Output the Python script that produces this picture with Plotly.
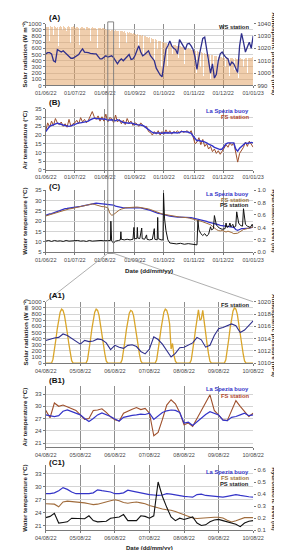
import plotly.graph_objects as go
import pandas as pd

W, H = 282, 550

# ---------------- tick labels ----------------
month_ticks = ["2022-06-01", "2022-07-01", "2022-08-01", "2022-09-01",
               "2022-10-01", "2022-11-01", "2022-12-01", "2023-01-01"]
month_labels = ["01/06/22", "01/07/22", "01/08/22", "01/09/22",
                "01/10/22", "01/11/22", "01/12/22", "01/01/23"]
day_ticks = ["2022-08-04", "2022-08-05", "2022-08-06", "2022-08-07",
             "2022-08-08", "2022-08-09", "2022-08-10"]
day_labels = ["04/08/22", "05/08/22", "06/08/22", "07/08/22",
              "08/08/22", "09/08/22", "10/08/22"]

# ---------------- (A) daily solar radiation peaks, WS station ----------------
solar_days = pd.date_range("2022-06-01 12:00", periods=214, freq="D")
solar_jun = [950, 955, 945, 720, 960, 950, 955, 830, 960, 955, 935, 950, 640, 955, 960,
             945, 950, 905, 960, 955, 940, 880, 950, 960, 955, 690, 945, 950, 960, 955]
solar_jul = [940, 945, 950, 930, 660, 940, 945, 950, 935, 940, 900, 945, 950, 940, 935,
             720, 940, 945, 930, 940, 935, 940, 920, 610, 935, 930, 940, 925, 930, 935, 920]
solar_aug = [915, 910, 905, 900, 910, 890, 905, 900, 660, 895, 900, 890, 880, 895, 610,
             885, 880, 890, 870, 880, 875, 860, 700, 870, 860, 865, 850, 860, 840, 850, 845]
solar_sep = [840, 830, 835, 600, 820, 825, 810, 815, 500, 800, 805, 790, 795, 780, 785,
             690, 770, 760, 765, 420, 750, 745, 740, 600, 730, 725, 720, 310, 710, 705]
solar_oct = [700, 695, 690, 320, 685, 680, 675, 670, 520, 665, 660, 655, 650, 640, 450,
             645, 640, 630, 625, 620, 360, 615, 610, 600, 605, 220, 595, 590, 585, 580, 575]
solar_nov = [570, 565, 210, 560, 555, 545, 310, 540, 535, 160, 530, 520, 515, 400, 510,
             505, 110, 500, 495, 260, 490, 485, 480, 360, 475, 470, 210, 465, 460, 455]
solar_dec = [460, 455, 300, 450, 450, 455, 160, 445, 450, 445, 440, 260, 445, 440, 440,
             120, 440, 445, 440, 435, 310, 440, 445, 450, 210, 450, 445, 450, 455, 360, 460]
solar_ws = solar_jun + solar_jul + solar_aug + solar_sep + solar_oct + solar_nov + solar_dec

# ---------------- 2-day series (A, B, C) ----------------
two_day = pd.date_range("2022-06-01", "2023-01-01", freq="2D")
pressure_ws = [1015.5, 1016.5, 1016.5, 1015.5, 1010, 1009, 1019, 1018, 1017, 1018,
               1016.5, 1014.5, 1013, 1012, 1012, 1013, 1013.5, 1015, 1017.5, 1019.5,
               1017, 1017, 1016.5, 1016, 1015.5, 1015.5, 1015.5, 1013, 1011.5, 1011.5,
               1013, 1014, 1013, 1013.5, 1014, 1012.5, 1010, 1007.5, 1010, 1011.5,
               1010, 1011.5, 1013, 1015, 1011, 1011.5, 1014, 1018, 1022, 1017,
               1014, 1015, 1016.5, 1018, 1014, 1012, 1010, 1004, 1001, 998.5,
               997, 1010, 1019, 1022, 1026, 1022, 1020, 1019, 1015.5, 1027,
               1024.5, 1021, 1019, 1023.5, 1024, 1022, 1019, 1013, 1003, 1013,
               1021, 1028, 1029, 1018, 1007, 1000, 1007.5, 996, 999, 1010,
               1015.5, 1017, 1014.5, 1012.5, 1011.5, 1006, 1009, 1007.5, 1004, 1000.5,
               1022, 1032, 1025, 1017, 1021, 1025, 1020, 1030]
air_buoy = [22.0, 23.5, 25.0, 25.5, 26.0, 26.5, 26.8, 26.5, 26.0, 25.8,
            25.5, 25.2, 25.0, 25.3, 25.8, 26.0, 26.5, 27.0, 27.0, 27.2,
            27.2, 27.5, 28.0, 28.8, 29.5, 29.7, 29.5, 29.4, 29.5, 29.2,
            29.0, 29.1, 28.5, 28.8, 28.8, 28.5, 28.2, 28.8, 28.5, 27.8,
            27.2, 27.0, 27.0, 26.8, 27.0, 26.5, 26.2, 26.0, 26.0, 25.8,
            25.5, 25.0, 24.0, 23.0, 22.0, 21.5, 21.2, 21.0, 21.2, 21.2,
            21.0, 21.3, 21.2, 21.5, 21.0, 21.2, 21.5, 21.3, 21.2, 21.5,
            22.0, 22.0, 22.1, 21.8, 21.5, 21.0, 19.5, 18.0, 16.8, 17.0,
            16.5, 16.5, 16.2, 15.5, 14.8, 14.5, 13.8, 13.0, 12.5, 12.0,
            11.7, 12.0, 13.5, 15.0, 15.5, 15.5, 15.2, 15.5, 12.0, 10.8,
            12.5, 13.6, 14.5, 15.5, 15.2, 15.5, 15.8, 15.5]
air_fs = [22.5, 27.0, 24.5, 28.0, 25.5, 29.5, 27.0, 26.0, 27.5, 25.0,
          26.5, 24.5, 29.0, 25.0, 26.5, 27.0, 28.5, 26.5, 30.0, 27.5,
          29.0, 27.0, 28.5, 31.0, 33.5, 30.5, 29.0, 31.0, 28.0, 30.5,
          28.0, 32.0, 27.5, 30.0, 29.5, 27.0, 31.5, 27.5, 29.0, 26.5,
          28.5, 26.0, 29.5, 27.0, 28.0, 25.5, 27.0, 26.5, 25.0, 27.0,
          25.5, 24.5, 25.0, 22.0, 21.5, 20.0, 22.0, 20.5, 22.5, 20.0,
          22.0, 20.5, 23.0, 21.0, 22.5, 20.5, 22.0, 21.5, 22.5, 21.0,
          22.5, 21.5, 22.0, 22.5, 21.0, 22.5, 19.0, 15.0, 16.0, 18.5,
          14.5, 17.5, 13.5, 15.0, 12.0, 13.5, 10.5, 12.0, 9.5, 11.0,
          9.0, 10.5, 12.5, 14.5, 13.0, 15.5, 14.0, 15.5, 9.0, 4.5,
          9.5, 11.0, 13.0, 16.0, 13.5, 16.5, 14.5, 13.0]
water_buoy = [22.8, 23.2, 23.5, 23.6, 24.0, 24.3, 24.6, 25.0, 25.3, 25.7,
              26.0, 26.1, 26.3, 26.4, 26.6, 26.7, 26.9, 27.0, 27.1, 27.3,
              27.4, 27.5, 27.8, 28.1, 28.4, 28.6, 28.7, 28.6, 28.5, 28.5,
              28.4, 28.3, 28.3, 28.1, 28.0, 27.7, 27.3, 27.0, 26.8, 26.6,
              26.4, 26.4, 26.4, 26.5, 26.6, 26.7, 26.7, 26.6, 26.5, 26.4,
              26.2, 26.0, 25.8, 25.5, 25.2, 24.8, 24.4, 24.1, 23.8, 23.6,
              23.3, 23.0, 22.8, 22.6, 22.4, 22.3, 22.1, 22.0, 22.0, 22.0,
              22.0, 22.0, 22.0, 21.9, 21.8, 21.7, 21.5, 21.3, 21.2, 21.0,
              20.7, 20.4, 20.2, 19.9, 19.6, 19.4, 19.1, 18.8, 18.6, 18.3,
              18.0, 17.9, 17.7, 17.5, 17.5, 17.3, 17.2, 17.0, 16.0, 15.6,
              16.0, 16.4, 16.4, 16.4, 16.5, 16.7, 16.9, 17.2]
water_fs = [22.5, 22.8, 23.0, 23.2, 23.5, 23.8, 24.1, 24.5, 24.8, 25.2,
            25.5, 25.7, 25.9, 26.0, 26.2, 26.4, 26.6, 26.8, 27.0, 27.3,
            27.5, 27.7, 28.0, 28.2, 28.3, 28.1, 27.8, 27.5, 27.2, 27.0,
            27.0, 26.8, 26.5, 24.0, 22.8, 23.2, 24.0, 24.8, 25.4, 25.8,
            26.2, 26.4, 26.5, 26.6, 26.8, 26.9, 26.8, 26.8, 26.7, 26.6,
            26.5, 26.3, 26.1, 25.9, 25.6, 25.2, 24.8, 24.4, 24.1, 23.8,
            23.5, 23.3, 23.1, 22.9, 22.7, 22.5, 22.3, 22.2, 22.1, 22.0,
            21.9, 21.9, 21.8, 21.7, 21.5, 21.3, 21.1, 20.8, 20.5, 20.2,
            20.0, 19.7, 19.4, 19.1, 18.8, 18.3, 17.5, 16.5, 16.0, 15.5,
            15.3, 15.5, 15.0, 14.8, 15.2, 15.0, 14.5, 14.0, 14.0, 14.2,
            14.8, 15.5, 16.0, 16.2, 16.5, 16.8, 17.0, 17.2]

# ---------------- (C) hydrometric level, PS station ----------------
level_dates = ["2022-06-01", "2022-06-04", "2022-06-07", "2022-06-10", "2022-06-13", "2022-06-16",
               "2022-06-19", "2022-06-22", "2022-06-25", "2022-06-28", "2022-07-01", "2022-07-04",
               "2022-07-07", "2022-07-10", "2022-07-13", "2022-07-16", "2022-07-19", "2022-07-22",
               "2022-07-25", "2022-07-28", "2022-07-31", "2022-08-03", "2022-08-06 18:00",
               "2022-08-07 04:00", "2022-08-07 12:00", "2022-08-08", "2022-08-10", "2022-08-12",
               "2022-08-15", "2022-08-17", "2022-08-17 12:00", "2022-08-18", "2022-08-21",
               "2022-08-24", "2022-08-27", "2022-08-30", "2022-08-31", "2022-08-31 12:00",
               "2022-09-03", "2022-09-03 12:00", "2022-09-04", "2022-09-06", "2022-09-08",
               "2022-09-08 12:00", "2022-09-11", "2022-09-13", "2022-09-13 12:00", "2022-09-16",
               "2022-09-19", "2022-09-21", "2022-09-21 12:00", "2022-09-24", "2022-09-24 12:00",
               "2022-09-25", "2022-09-28", "2022-09-30", "2022-09-30 12:00", "2022-10-01 12:00",
               "2022-10-03", "2022-10-05", "2022-10-07", "2022-10-10", "2022-10-14", "2022-10-18",
               "2022-10-22", "2022-10-26", "2022-10-30", "2022-11-02", "2022-11-04", "2022-11-05",
               "2022-11-06", "2022-11-08", "2022-11-10", "2022-11-12", "2022-11-14", "2022-11-16",
               "2022-11-18", "2022-11-19", "2022-11-21", "2022-11-22", "2022-11-24", "2022-11-27",
               "2022-11-30", "2022-12-03", "2022-12-04", "2022-12-05", "2022-12-07", "2022-12-08",
               "2022-12-09", "2022-12-10", "2022-12-11", "2022-12-12", "2022-12-14", "2022-12-15",
               "2022-12-17", "2022-12-19", "2022-12-21", "2022-12-22", "2022-12-24", "2022-12-26",
               "2022-12-29", "2022-12-31", "2023-01-01"]
level_ps = [0.18, 0.19, 0.175, 0.19, 0.18, 0.185,
            0.175, 0.19, 0.18, 0.185, 0.18, 0.19,
            0.18, 0.185, 0.175, 0.19, 0.18, 0.185,
            0.18, 0.19, 0.185, 0.19, 0.19,
            0.50, 0.30, 0.18, 0.15, 0.18,
            0.19, 0.20, 0.33, 0.21, 0.20,
            0.21, 0.20, 0.21, 0.40, 0.22,
            0.22, 0.40, 0.23, 0.22, 0.39,
            0.22, 0.21, 0.28, 0.21, 0.20,
            0.21, 0.38, 0.21, 0.20, 0.56,
            0.22, 0.20, 0.20, 0.95, 0.55,
            0.35, 0.20, 0.15, 0.14, 0.135, 0.145,
            0.13, 0.14, 0.135, 0.13, 0.12, 0.51,
            0.36, 0.30, 0.27, 0.30, 0.26, 0.29,
            0.41, 0.36, 0.38, 0.59, 0.44, 0.39,
            0.37, 0.38, 0.47, 0.40, 0.42, 0.47,
            0.41, 0.43, 0.45, 0.40, 0.42, 0.65,
            0.47, 0.43, 0.42, 0.70, 0.45, 0.42,
            0.40, 0.45, 0.41]

# ---------------- zoom period 04/08/22 - 10/08/22 ----------------
hourly = pd.date_range("2022-08-04", "2022-08-10", freq="h")
solar_fs_d1 = [0, 0, 0, 0, 0, 60, 200, 380, 560, 720, 830, 880, 860, 780, 650, 490, 320, 160, 40, 0, 0, 0, 0, 0]
solar_fs_d2 = [0, 0, 0, 0, 0, 55, 195, 375, 555, 715, 830, 880, 860, 780, 645, 485, 315, 155, 35, 0, 0, 0, 0, 0]
solar_fs_d3 = [0, 0, 0, 0, 0, 55, 190, 365, 545, 700, 815, 860, 845, 770, 635, 480, 310, 150, 35, 0, 0, 0, 0, 0]
solar_fs_d4 = [0, 0, 0, 0, 0, 55, 195, 375, 555, 715, 830, 880, 860, 780, 640, 230, 320, 130, 30, 0, 0, 0, 0, 0]
solar_fs_d5 = [0, 0, 0, 0, 0, 50, 190, 370, 550, 720, 870, 700, 720, 860, 640, 480, 310, 150, 30, 0, 0, 0, 0, 0]
solar_fs_d6 = [0, 0, 0, 0, 0, 55, 200, 385, 570, 735, 850, 900, 880, 795, 655, 495, 320, 160, 35, 0, 0, 0, 0, 0]
solar_fs_end = [0]
solar_fs = solar_fs_d1 + solar_fs_d2 + solar_fs_d3 + solar_fs_d4 + solar_fs_d5 + solar_fs_d6 + solar_fs_end

three_h = pd.date_range("2022-08-04", "2022-08-10", freq="3h")
pressure_fs = [1013.7, 1013.95, 1014.1, 1014.2, 1014.75, 1014.5, 1014.0, 1013.6,
               1013.1, 1013.7, 1013.5, 1013.6, 1013.95, 1013.8, 1013.3, 1012.2,
               1012.9, 1012.6, 1012.4, 1012.9, 1013.0, 1012.7, 1011.9, 1011.5,
               1012.3, 1014.3, 1013.85, 1013.1, 1012.05, 1011.0, 1011.6, 1012.5,
               1012.6, 1012.9, 1013.3, 1014.2, 1013.8, 1012.6, 1012.9, 1014.5,
               1015.6, 1015.8, 1016.1, 1016.4, 1016.1, 1015.0, 1015.4, 1016.2, 1016.9]
air_buoy_z = [27.9, 27.7, 27.5, 27.7, 28.8, 29.1, 28.7, 28.2,
              27.9, 27.0, 26.3, 27.0, 27.9, 28.4, 28.0, 27.5,
              26.9, 26.4, 27.3, 27.6, 27.8, 27.9, 28.1, 28.0,
              28.3, 26.8, 27.6, 28.5, 28.9, 29.1, 29.0, 28.5,
              25.9, 26.1, 25.3, 26.2, 27.2, 28.0, 28.7, 28.2,
              27.9, 26.6, 26.5, 27.3, 27.5, 27.9, 28.3, 27.7, 27.9]
air_fs_z = [29.0, 27.2, 30.8, 30.0, 30.3, 29.8, 29.5, 29.0,
            27.9, 26.8, 27.0, 29.0, 29.1, 29.4, 28.5, 27.4,
            26.7, 26.4, 28.3, 28.9, 29.3, 29.7, 29.2, 29.5,
            28.3, 22.8, 23.6, 26.8, 30.3, 31.6, 30.6, 28.5,
            25.5, 25.9, 25.1, 27.0, 29.0, 31.0, 32.8, 29.0,
            27.8, 26.7, 26.5, 28.9, 31.4, 30.0, 28.8, 27.5, 28.3]
water_buoy_z = [28.4, 28.4, 28.6, 29.1, 29.8, 29.4, 28.8, 28.4,
                28.4, 28.4, 28.4, 28.6, 29.3, 29.1, 29.0, 28.8,
                28.4, 28.4, 28.6, 29.2, 29.0, 28.8, 28.5, 28.4,
                28.2, 28.1, 28.0, 28.1, 28.4, 28.3, 28.1, 28.0,
                27.8, 27.7, 27.6, 28.2, 28.3, 28.0, 27.9, 27.7,
                27.6, 27.6, 27.8, 28.0, 28.2, 28.0, 27.8, 27.7, 27.6]
water_fs_z = [26.1, 26.1, 26.0, 25.4, 26.5, 26.7, 26.6, 26.5,
              26.5, 26.3, 26.1, 25.9, 26.0, 26.3, 26.6, 26.8,
              27.0, 26.8, 26.4, 26.2, 26.4, 26.5, 26.3, 26.1,
              25.7, 25.4, 25.1, 24.9, 24.7, 24.6, 24.3, 23.9,
              23.6, 23.2, 22.8, 22.7, 22.8, 22.9, 23.0, 23.0,
              23.0, 22.8, 22.3, 21.9, 22.2, 22.6, 22.9, 22.9, 22.9]
level_ps_z = [0.205, 0.215, 0.24, 0.16, 0.165, 0.17, 0.20, 0.20,
              0.20, 0.195, 0.22, 0.18, 0.17, 0.17, 0.175, 0.20,
              0.205, 0.21, 0.23, 0.18, 0.18, 0.18, 0.22, 0.215,
              0.20, 0.22, 0.50, 0.38, 0.29, 0.21, 0.18, 0.20,
              0.19, 0.20, 0.21, 0.16, 0.14, 0.145, 0.17, 0.185,
              0.19, 0.18, 0.17, 0.155, 0.15, 0.13, 0.16, 0.175, 0.18]

# ---------------- styling ----------------
FONT = "Liberation Sans, Arial, sans-serif"
C_BUOY = "#3434c8"
C_FS_AIR = "#9e4f2b"
C_FS_WATER = "#a06c3c"
C_PS = "#111111"
C_PRESS = "#2e2e8c"
C_SOLAR_A = "rgba(226,158,92,0.5)"
C_SOLAR_A1 = "#d9a52a"
XD = [29 / W, 254 / W]


def py(px):
    return 1 - px / H


def dom(top, bottom):
    return [py(bottom), py(top)]


fig = go.Figure()

# (A)
fig.add_trace(go.Bar(x=solar_days, y=solar_ws, width=86400000, marker=dict(color=C_SOLAR_A, line=dict(width=0)),
                     xaxis="x", yaxis="y"))
fig.add_trace(go.Scatter(x=two_day, y=pressure_ws, mode="lines", line=dict(color=C_PRESS, width=1.3),
                         xaxis="x", yaxis="y7"))
# (B)
fig.add_trace(go.Scatter(x=two_day, y=air_fs, mode="lines", line=dict(color=C_FS_AIR, width=1.0),
                         xaxis="x2", yaxis="y2"))
fig.add_trace(go.Scatter(x=two_day, y=air_buoy, mode="lines", line=dict(color=C_BUOY, width=1.4),
                         xaxis="x2", yaxis="y2"))
# (C)
fig.add_trace(go.Scatter(x=two_day, y=water_buoy, mode="lines", line=dict(color=C_BUOY, width=1.3),
                         xaxis="x3", yaxis="y3"))
fig.add_trace(go.Scatter(x=two_day, y=water_fs, mode="lines", line=dict(color=C_FS_WATER, width=1.0),
                         xaxis="x3", yaxis="y3"))
fig.add_trace(go.Scatter(x=level_dates, y=level_ps, mode="lines", line=dict(color=C_PS, width=1.0),
                         xaxis="x3", yaxis="y8"))
# (A1)
fig.add_trace(go.Scatter(x=hourly, y=solar_fs, mode="lines", line=dict(color=C_SOLAR_A1, width=1.3),
                         xaxis="x4", yaxis="y4"))
fig.add_trace(go.Scatter(x=three_h, y=pressure_fs, mode="lines", line=dict(color=C_PRESS, width=1.1),
                         xaxis="x4", yaxis="y9"))
# (B1)
fig.add_trace(go.Scatter(x=three_h, y=air_fs_z, mode="lines", line=dict(color=C_FS_AIR, width=1.1),
                         xaxis="x5", yaxis="y5"))
fig.add_trace(go.Scatter(x=three_h, y=air_buoy_z, mode="lines", line=dict(color=C_BUOY, width=1.2),
                         xaxis="x5", yaxis="y5"))
# (C1)
fig.add_trace(go.Scatter(x=three_h, y=water_buoy_z, mode="lines", line=dict(color=C_BUOY, width=1.2),
                         xaxis="x6", yaxis="y6"))
fig.add_trace(go.Scatter(x=three_h, y=water_fs_z, mode="lines", line=dict(color=C_FS_WATER, width=1.1),
                         xaxis="x6", yaxis="y6"))
fig.add_trace(go.Scatter(x=three_h, y=level_ps_z, mode="lines", line=dict(color=C_PS, width=1.1),
                         xaxis="x6", yaxis="y10"))


def xaxis(anchor, ticks, labels, rng):
    return dict(domain=XD, anchor=anchor, type="date", range=rng, tickmode="array",
                tickvals=ticks, ticktext=labels, showgrid=True, gridcolor="#8e8e8e", gridwidth=0.8,
                showline=True, linecolor="#7a7a7a", linewidth=0.8, ticks="outside", ticklen=2,
                tickcolor="#7a7a7a", tickfont=dict(size=5.5, color="#444444", family=FONT),
                zeroline=False, fixedrange=True)


def yaxis(d, anchor, rng, dtick, fmt=None, tickvals=None):
    a = dict(domain=d, anchor=anchor, range=rng, dtick=dtick, showgrid=True, gridcolor="#d4d4d4",
             gridwidth=0.7, showline=True, linecolor="#7a7a7a", linewidth=0.8, ticks="outside",
             ticklen=2, tickcolor="#7a7a7a", tickfont=dict(size=6, color="#444444", family=FONT),
             zeroline=False, fixedrange=True)
    if fmt:
        a["tickformat"] = fmt
    if tickvals is not None:
        a["tickmode"] = "array"
        a["tickvals"] = tickvals
    return a


def yright(over, anchor, rng, dtick, fmt=None, tickvals=None):
    a = dict(overlaying=over, anchor=anchor, side="right", range=rng, dtick=dtick, showgrid=False,
             showline=False, ticks="outside", ticklen=2, tickcolor="#7a7a7a",
             tickfont=dict(size=6, color="#444444", family=FONT), zeroline=False, fixedrange=True)
    if fmt:
        a["tickformat"] = fmt
    if tickvals is not None:
        a["tickmode"] = "array"
        a["tickvals"] = tickvals
    return a


main_rng = ["2022-06-01", "2023-01-01"]
zoom_rng = ["2022-08-04", "2022-08-10"]

fig.update_layout(
    width=W, height=H, margin=dict(l=0, r=0, t=0, b=0),
    paper_bgcolor="white", plot_bgcolor="white", showlegend=False, bargap=0,
    font=dict(family=FONT, size=6, color="#333333"),
    xaxis=xaxis("y", month_ticks, month_labels, main_rng),
    xaxis2=xaxis("y2", month_ticks, month_labels, main_rng),
    xaxis3=xaxis("y3", month_ticks, month_labels, main_rng),
    xaxis4=xaxis("y4", day_ticks, day_labels, zoom_rng),
    xaxis5=xaxis("y5", day_ticks, day_labels, zoom_rng),
    xaxis6=xaxis("y6", day_ticks, day_labels, zoom_rng),
    yaxis=yaxis(dom(12.7, 75.3), "x", [0, 1000], 100),
    yaxis2=yaxis(dom(99, 160.7), "x2", [0, 35], 5),
    yaxis3=yaxis(dom(181, 244), "x3", [5, 35], 5),
    yaxis4=yaxis(dom(294, 356), "x4", [0, 1000], 100),
    yaxis5=yaxis(dom(379, 441), "x5", [20, 35], 3),
    yaxis6=yaxis(dom(459, 525), "x6", [20, 35], 3),
    yaxis7=yright("y", "x", [990, 1040], 10),
    yaxis8=yright("y3", "x3", [0, 1], 0.2, ".1f"),
    yaxis9=yright("y4", "x4", [1010, 1020], 2),
    yaxis10=yright("y6", "x6", [0.1, 0.641], 0.1, ".1f", [0.1, 0.2, 0.3, 0.4, 0.5, 0.6]),
)

# zoom rectangle and connector lines (through axis x, shared domain)
LC = "#7a7a7a"
shapes = [
    dict(type="rect", xref="x", yref="paper", x0=zoom_rng[0], x1=zoom_rng[1], y0=py(245), y1=py(11),
         line=dict(color=LC, width=0.9)),
    dict(type="line", xref="x", yref="paper", x0=zoom_rng[0], x1=main_rng[0], y0=py(245), y1=py(294),
         line=dict(color="#9a9a9a", width=0.8)),
    dict(type="line", xref="x", yref="paper", x0=zoom_rng[1], x1=main_rng[1], y0=py(245), y1=py(294),
         line=dict(color="#9a9a9a", width=0.8)),
]
fig.update_layout(shapes=shapes)

ann = []


def text(t, xpx, ypx, size=6, color="#222222", xanchor="center", angle=0, bold=True):
    ann.append(dict(text=("<b>%s</b>" % t) if bold else t, xref="paper", yref="paper",
                    x=xpx / W, y=py(ypx), xanchor=xanchor, yanchor="middle", showarrow=False,
                    textangle=angle, font=dict(size=size, color=color, family=FONT)))


# panel labels
for lab, yy in [("(A)", 6.5), ("(B)", 93), ("(C)", 177), ("(A1)", 288), ("(B1)", 374), ("(C1)", 456)]:
    text(lab, 30, yy, size=8, color="#111111", xanchor="left")

# legends
text("WS station", 252, 16.5, 5.8, "#222222", "right")
text("La Spezia buoy", 252, 101.5, 5.8, C_BUOY, "right")
text("FS station", 252, 107.5, 5.8, "#b0452a", "right")
text("La Spezia buoy", 252, 185.5, 5.8, C_BUOY, "right")
text("FS station", 252, 191, 5.8, "#9a7440", "right")
text("PS station", 252, 196.5, 5.8, "#222222", "right")
text("FS station", 252, 297.5, 5.8, "#222222", "right")
text("La Spezia buoy", 252, 382, 5.8, C_BUOY, "right")
text("FS station", 252, 389, 5.8, "#b0452a", "right")
text("La Spezia buoy", 252, 466.5, 5.8, C_BUOY, "right")
text("FS station", 252, 472.3, 5.8, "#9a7440", "right")
text("PS station", 252, 478.3, 5.8, "#222222", "right")

# axis titles
text("Solar radiation (W m⁻²)", 6.5, 44, 6.2, "#222222", "center", -90)
text("Air temperature (°C)", 6.5, 130, 6.2, "#222222", "center", -90)
text("Water temperature (°C)", 6.5, 212, 6.2, "#222222", "center", -90)
text("Solar radiation (W m⁻²)", 6.5, 325, 6.2, "#222222", "center", -90)
text("Air temperature (°C)", 6.5, 410, 6.2, "#222222", "center", -90)
text("Water temperature (°C)", 6.5, 492, 6.2, "#222222", "center", -90)
text("Atmospheric pressure (hPa)", 277, 43, 6.2, "#222222", "center", 90)
text("Hydrometric level (m)", 277, 212, 6.2, "#222222", "center", 90)
text("Atmospheric pressure (hPa)", 277, 328, 6.2, "#222222", "center", 90)
text("Hydrometric level (m)", 277, 493, 6.2, "#222222", "center", 90)
text("Date (dd/mm/yy)", 141.5, 262, 6.2, "#222222")
text("Date (dd/mm/yy)", 141.5, 542.5, 6.0, "#222222")

fig.update_layout(annotations=ann)

fig.write_html("out.html")
